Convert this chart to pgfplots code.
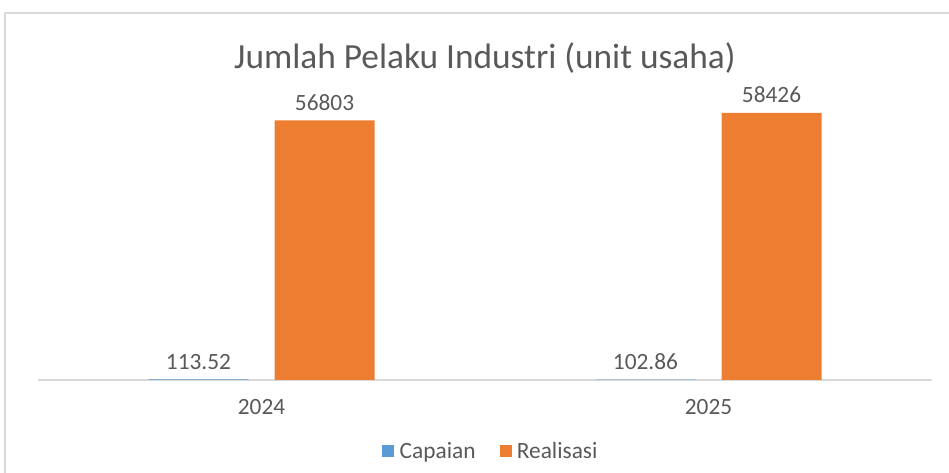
\documentclass[border=0pt]{standalone}
\usepackage{fontspec}
\setmainfont{Carlito}
\usepackage{pgfplots}
\pgfplotsset{compat=1.18}
\definecolor{cap}{HTML}{5B9BD5}
\definecolor{rea}{HTML}{ED7D31}
\definecolor{txt}{HTML}{595959}
\definecolor{frm}{HTML}{D9D9D9}
\begin{document}
\begin{tikzpicture}[x=0.75pt,y=0.75pt]
\useasboundingbox (0,0) rectangle (949,473);
\draw[frm, line width=1.2pt] (5,-10) -- (5,460) -- (960,460);
\node[text=txt, font=\fontsize{26.5}{30}\selectfont] at (485,415) {Jumlah Pelaku Industri (unit usaha)};
\begin{axis}[
  at={(28.5pt,69.75pt)}, anchor=south west,
  scale only axis, width=670.5pt, height=240pt,
  xmin=-0.5, xmax=1.5, ymin=0, ymax=70000,
  ybar, bar width=75pt,
  axis x line*=bottom, axis y line=none,
  x axis line style={draw=frm, line width=1pt, -},
  xtick={0,1}, xticklabels={2024,2025},
  major tick length=0pt,
  xticklabel style={text=txt, font=\fontsize{17.5}{20}\selectfont, yshift=-11pt},
  /pgf/number format/assume math mode=true,
  nodes near coords,
  point meta=explicit symbolic,
  every node near coord/.append style={text=txt, font=\fontsize{17.5}{20}\selectfont, yshift=4pt},
  legend style={at={(0.507,-0.222)}, anchor=center, draw=none, fill=none,
    legend columns=2, font=\fontsize{17.5}{20}\selectfont, text=txt,
    /tikz/every even column/.append style={column sep=16pt}},
  legend image code/.code={\fill[#1] (0pt,-4.5pt) rectangle (9pt,4.5pt);},
  clip=false,
]
\addplot[fill=cap, draw=none, bar shift=-47.25pt] coordinates {(0,113.52) [113.52] (1,102.86) [102.86]};
\addplot[fill=rea, draw=none, bar shift=47.25pt] coordinates {(0,56803) [56803] (1,58426) [58426]};
\legend{\hspace{2pt}Capaian, \hspace{2pt}Realisasi}
\end{axis}
\end{tikzpicture}
\end{document}
